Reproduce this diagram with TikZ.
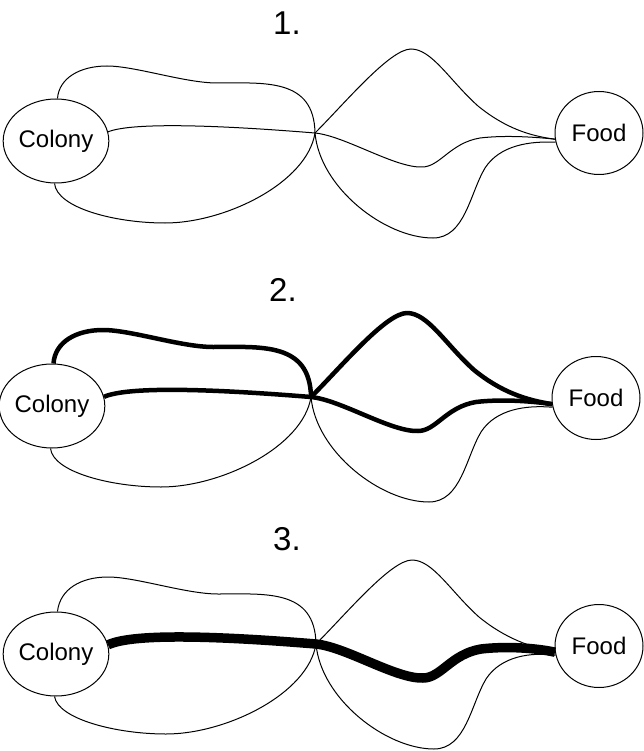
\documentclass[tikz,border=0pt]{standalone}
\usepackage{fontspec}
\setmainfont{Liberation Sans}
\usetikzlibrary{shapes.geometric}
\tikzset{
  blob/.style={draw, ellipse, line width=1pt, minimum width=92pt, minimum height=84pt, inner sep=0pt, font=\fontsize{24}{28}\selectfont},
  foodblob/.style={blob, minimum width=88pt, minimum height=83pt},
  ttl/.style={anchor=base, font=\fontsize{33}{37}\selectfont, inner sep=0pt},
  thinp/.style={line width=1pt},
  thickp/.style={line width=4.5pt, line join=round},
  thickerp/.style={line width=9.5pt, line join=round},
}
% path pieces (local coordinates, hub at origin)
\newcommand\pTL[1]{(c#1.88) .. controls (-256,-55) and (-235,-67) .. (-208,-67) .. controls (-180,-67) and (-130,-50) .. (-98,-50) .. controls (-50,-50) and (-1,-55) .. (h#1)}
\newcommand\pML[1]{(c#1.10) .. controls (-185,-10) and (-110,-9) .. (h#1)}
\newcommand\pBL[1]{(c#1.268) .. controls (-258,75) and (-200,90) .. (-150,90) .. controls (-90,90) and (-8,50) .. (h#1)}
\newcommand\pTR[1]{(h#1) .. controls (30,-30) and (75,-84) .. (96,-84) .. controls (117,-84) and (135,-52) .. (163,-27) .. controls (190,-5) and (215,3) .. (f#1.188)}
\newcommand\pRMa[1]{(h#1) .. controls (30,3) and (80,35) .. (107,34) .. controls (125,34) and (135,10) .. (165,5) .. controls (190,2) and (220,4) .. (f#1.188)}
\newcommand\pRMb[1]{.. controls (30,3) and (80,35) .. (107,34) .. controls (125,34) and (135,10) .. (165,5) .. controls (190,2) and (220,4) .. (f#1.188)}
\newcommand\pRB[1]{(h#1) .. controls (5,55) and (70,105) .. (118,105) .. controls (150,105) and (155,60) .. (170,35) .. controls (185,12) and (215,8) .. (f#1.192)}
\begin{document}
\begin{tikzpicture}[x=1pt,y=-1pt]
\useasboundingbox (0,0) rectangle (643,751);
% ---------- panel 1
\begin{scope}[shift={(315,133)}]
  \node[ttl] (t1) at (-28,-98) {1.};
  \node[blob] (c1) at (-259,8) {Colony};
  \node[foodblob] (f1) at (284,0) {Food};
  \coordinate (h1) at (0,0);
  \draw[thinp] \pTL{1};
  \draw[thinp] \pML{1};
  \draw[thinp] \pBL{1};
  \draw[thinp] \pTR{1};
  \draw[thinp] \pRMa{1};
  \draw[thinp] \pRB{1};
\end{scope}
% ---------- panel 2
\begin{scope}[shift={(311,397)}]
  \node[ttl] (t2) at (-28,-96) {2.};
  \node[blob] (c2) at (-259,9) {Colony};
  \node[foodblob] (f2) at (285,1) {Food};
  \coordinate (h2) at (0,0);
  \draw[thinp] \pBL{2};
  \draw[thinp] \pRB{2};
  \draw[thickp] \pTL{2};
  \draw[thickp] \pML{2};
  \draw[thickp] \pTR{2};
  \draw[thickp] \pRMa{2};
\end{scope}
% ---------- panel 3
\begin{scope}[shift={(316,644)}]
  \node[ttl] (t3) at (-29,-94) {3.};
  \node[blob] (c3) at (-260,10) {Colony};
  \node[foodblob] (f3) at (283,2) {Food};
  \coordinate (h3) at (0,0);
  \draw[thinp] \pTL{3};
  \draw[thinp] \pBL{3};
  \draw[thinp] \pTR{3};
  \draw[thinp] \pRB{3};
  \draw[thickerp] (c3.10) .. controls (-185,-10) and (-110,-9) .. (h3) \pRMb{3};
\end{scope}
\end{tikzpicture}
\end{document}
